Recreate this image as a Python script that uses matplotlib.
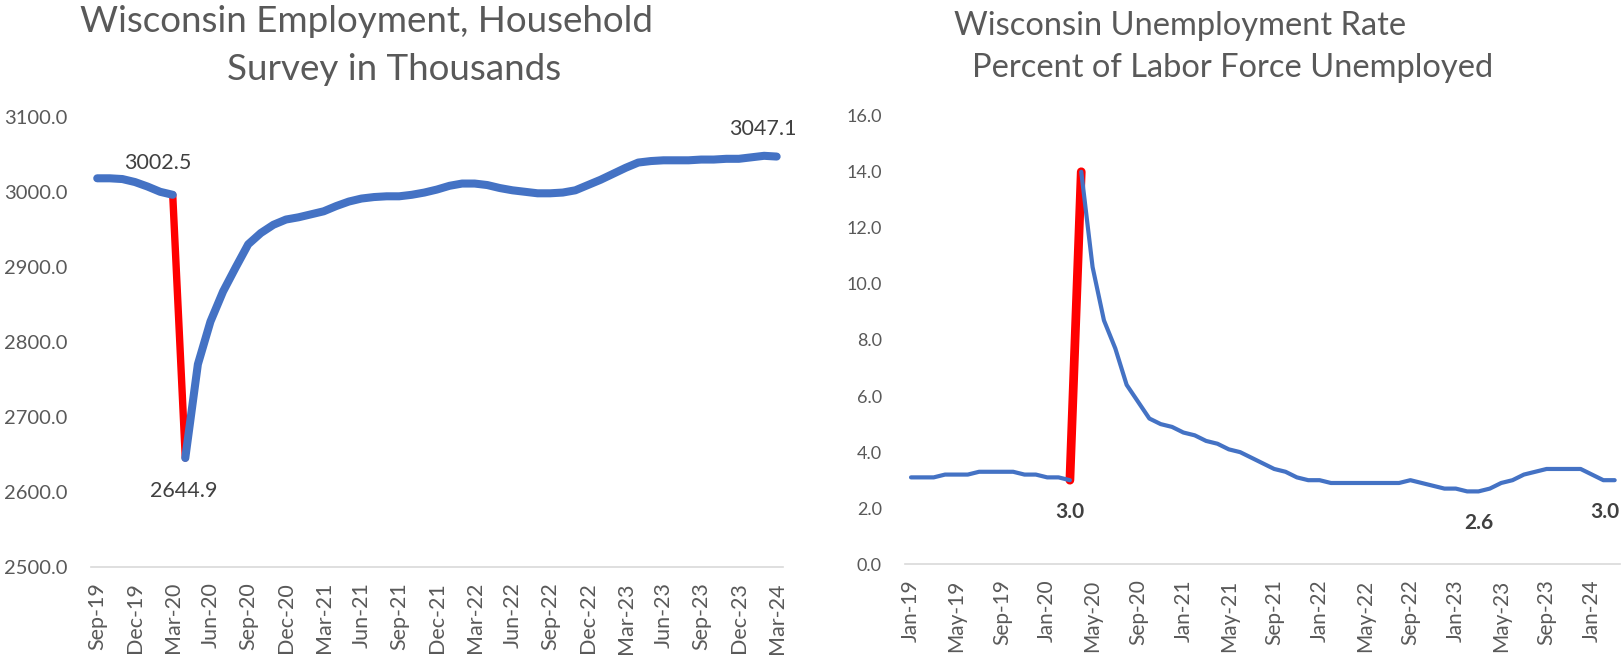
import numpy as np
import pandas as pd
import matplotlib
matplotlib.use("Agg")
import matplotlib.pyplot as plt

plt.rcParams['font.family'] = ['Lato', 'DejaVu Sans']

# Wisconsin employment, household survey (thousands), Sep-19 .. Mar-24
emp_months = pd.date_range("2019-09-01", "2024-03-01", freq="MS")
emp_values = [3018, 3018, 3017, 3013, 3007, 3000, 2996,
              2645, 2770, 2827, 2867, 2899, 2930, 2945, 2956, 2963,
              2966, 2970, 2974, 2981, 2987, 2991, 2993, 2994, 2994, 2996, 2999, 3003,
              3008, 3011, 3011, 3009, 3005, 3002, 3000, 2998, 2998, 2999, 3002, 3009,
              3016, 3024, 3032, 3039, 3041, 3042, 3042, 3042, 3043, 3043, 3044, 3044,
              3046, 3048, 3047]

# Wisconsin unemployment rate (%), Jan-19 .. Mar-24
ur_months = pd.date_range("2019-01-01", "2024-03-01", freq="MS")
ur_values = [3.1, 3.1, 3.1, 3.2, 3.2, 3.2, 3.3, 3.3, 3.3, 3.3, 3.2, 3.2,
             3.1, 3.1, 3.0, 14.0, 10.6, 8.7, 7.7, 6.4, 5.8, 5.2, 5.0, 4.9,
             4.7, 4.6, 4.4, 4.3, 4.1, 4.0, 3.8, 3.6, 3.4, 3.3, 3.1, 3.0,
             3.0, 2.9, 2.9, 2.9, 2.9, 2.9, 2.9, 2.9, 3.0, 2.9, 2.8, 2.7,
             2.7, 2.6, 2.6, 2.7, 2.9, 3.0, 3.2, 3.3, 3.4, 3.4, 3.4, 3.4,
             3.2, 3.0, 3.0]

BLUE = "#4472C4"
RED = "#FF0000"
GRAY = "#595959"
DARK = "#404040"

fig = plt.figure(figsize=(16.21, 6.57), dpi=100)

def style(ax, n, ylim, yticks, ysize):
    ax.set_xlim(-0.5, n - 0.5)
    ax.set_ylim(*ylim)
    for s in ["top", "right", "left"]:
        ax.spines[s].set_visible(False)
    ax.spines["bottom"].set_color("#D9D9D9")
    ax.spines["bottom"].set_linewidth(1.2)
    ax.set_yticks(yticks)
    ax.set_yticklabels([f"{v:.1f}" for v in yticks], fontsize=ysize, color=GRAY)
    ax.tick_params(axis="y", length=0, pad=17)
    ax.tick_params(axis="x", length=0, pad=11)

# ---- left: employment ----
ax1 = fig.add_axes([0.0561, 0.1374, 0.4269, 0.6848])
x1 = np.arange(len(emp_values))
style(ax1, len(emp_values), (2500, 3100), np.arange(2500, 3101, 100), 14.5)
ax1.set_xticks(x1[::3])
ax1.set_xticklabels([d.strftime("%b-%y") for d in emp_months[::3]],
                    rotation=90, fontsize=15.5, color=GRAY)
# drop from Mar-20 to Apr-20 in red, rest in blue
ax1.plot(x1[6:8], emp_values[6:8], color=RED, lw=5.3, solid_capstyle="round", zorder=2)
ax1.plot(x1[:7], emp_values[:7], color=BLUE, lw=5.8, solid_capstyle="round",
         solid_joinstyle="round", zorder=3)
ax1.plot(x1[7:], emp_values[7:], color=BLUE, lw=5.8, solid_capstyle="round",
         solid_joinstyle="round", zorder=3)
ax1.annotate("3002.5", (6, emp_values[6]), xytext=(-15, 32), textcoords="offset pixels",
             ha="center", va="center", fontsize=15.5, color=DARK)
ax1.annotate("2644.9", (7, emp_values[7]), xytext=(-2, -33), textcoords="offset pixels",
             ha="center", va="center", fontsize=15.5, color=DARK)
ax1.annotate("3047.1", (54, emp_values[54]), xytext=(-14, 28), textcoords="offset pixels",
             ha="center", va="center", fontsize=15.5, color=DARK)

# ---- right: unemployment rate ----
ax2 = fig.add_axes([0.5585, 0.1411, 0.4411, 0.6828])
x2 = np.arange(len(ur_values))
style(ax2, len(ur_values), (0, 16), np.arange(0, 17, 2), 13)
ax2.set_xticks(x2[::4])
ax2.set_xticklabels([d.strftime("%b-%y") for d in ur_months[::4]],
                    rotation=90, fontsize=15, color=GRAY)
ax2.plot(x2[14:16], ur_values[14:16], color=RED, lw=6.3, solid_capstyle="round", zorder=2)
ax2.plot(x2[:15], ur_values[:15], color=BLUE, lw=3, solid_capstyle="round",
         solid_joinstyle="round", zorder=3)
ax2.plot(x2[15:], ur_values[15:], color=BLUE, lw=3, solid_capstyle="round",
         solid_joinstyle="round", zorder=3)
for i, dx in [(14, 0), (50, 0), (62, -10)]:
    ax2.annotate(f"{ur_values[i]:.1f}", (i, ur_values[i]), xytext=(dx, -32),
                 textcoords="offset pixels", ha="center", va="center",
                 fontsize=15, fontweight="bold", color=DARK, annotation_clip=False)

# titles
fig.text(367 / 1621, 1 - 21 / 657, "Wisconsin Employment, Household", ha="center",
         va="center", fontsize=26.5, color=GRAY)
fig.text(394 / 1621, 1 - 69 / 657, "Survey in Thousands", ha="center",
         va="center", fontsize=26.5, color=GRAY)
fig.text(1180 / 1621, 1 - 26 / 657, "Wisconsin Unemployment Rate", ha="center",
         va="center", fontsize=23.5, color=GRAY)
fig.text(1233 / 1621, 1 - 68 / 657, "Percent of Labor Force Unemployed", ha="center",
         va="center", fontsize=23.5, color=GRAY)

fig.savefig("out.png", dpi=100, facecolor="white")
